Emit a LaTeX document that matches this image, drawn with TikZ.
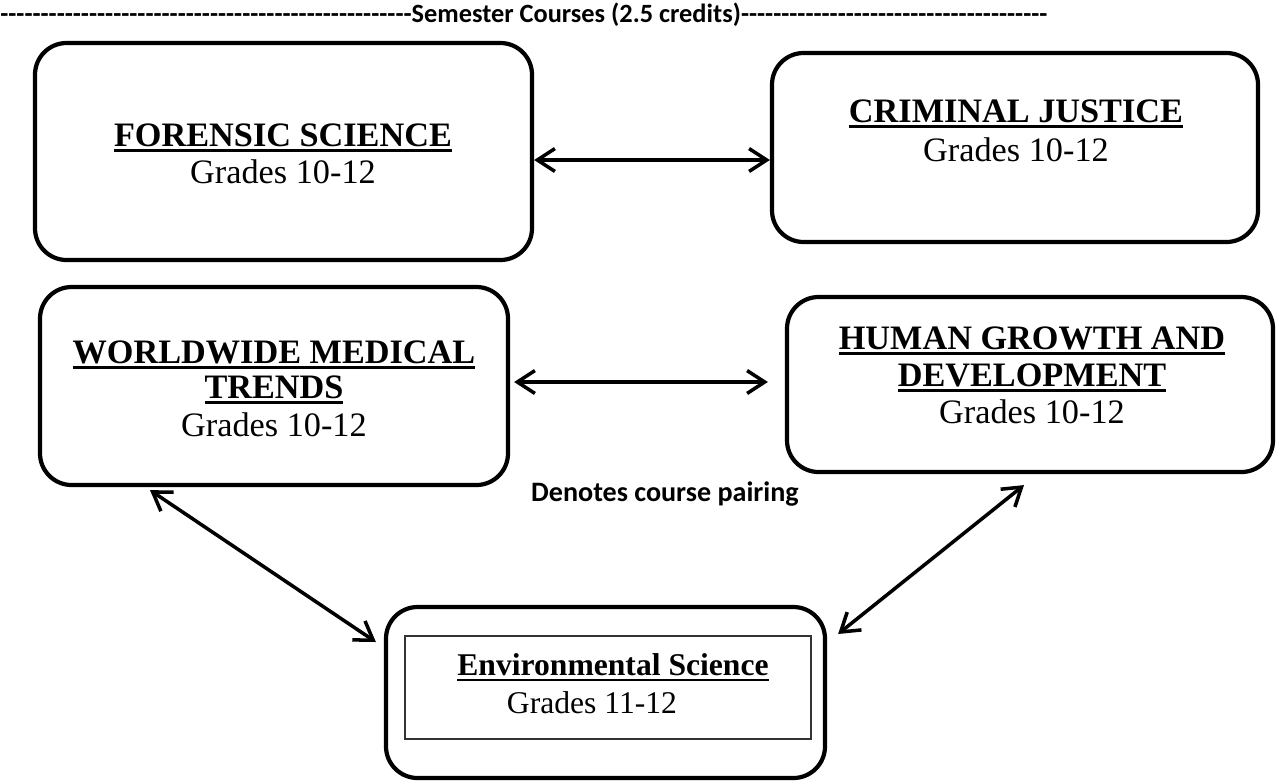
\documentclass[tikz,border=0pt]{standalone}
\usepackage{fontspec}
\setmainfont{Liberation Serif}
\newfontfamily\calibrifont{Carlito}
\usepackage{tikz}
\usetikzlibrary{arrows.meta}
\newcommand\dashrun[1]{\foreach \k in {1,...,#1}{-\kern0pt}}
\newcommand\ctitle[1]{\setbox0\hbox{\bfseries #1}\rlap{\rule[-3.4pt]{\wd0}{1.5pt}}\box0}
\tikzset{
  coursebox/.style ={draw, line width=2.4pt, rounded corners=18pt, inner sep=0pt},
  coursetext/.style ={anchor=base, font=\fontsize{19.5}{21}\selectfont, inner sep=0pt},
  smalltext/.style ={anchor=base, font=\fontsize{18}{20}\selectfont, inner sep=0pt},
  pair/.style ={draw, line width=2pt, {Straight Barb[length=10pt,width=13pt]}-{Straight Barb[length=10pt,width=13pt]}}
}

\begin{document}
\begin{tikzpicture}[x=0.02cm,y=-0.02cm]
	\useasboundingbox (0,0) rectangle (1282,782);
	% heading
	\node[font=\calibrifont\bfseries\fontsize{15}{17}\selectfont, anchor=base west, inner sep=0pt] (heading) at (0,22) {\dashrun{51}Semester Courses (2.5 credits)\dashrun{38}};

	% course boxes
	\node[coursebox, minimum width=497*0.02cm, minimum height=217*0.02cm] (forensic) at (283.5,151.5) {};
	\node[coursebox, minimum width=486*0.02cm, minimum height=189*0.02cm] (criminal) at (1015,147.5) {};
	\node[coursebox, minimum width=468*0.02cm, minimum height=198*0.02cm] (medical) at (274,386) {};
	\node[coursebox, minimum width=486*0.02cm, minimum height=175*0.02cm] (human) at (1030,384.5) {};
	\node[coursebox, minimum width=439*0.02cm, minimum height=171*0.02cm] (enviro) at (605.5,692.5) {};
	\draw[line width=0.8pt, black!80] (405,636) rectangle (811,739);

	% texts
	\node[coursetext] (forensictxt) at (283,146) {\ctitle{FORENSIC SCIENCE}};
	\node[coursetext] (forensicgr) at (283,183) {Grades 10-12};
	\node[coursetext] (criminaltxt) at (1016,122) {\ctitle{CRIMINAL JUSTICE}};
	\node[coursetext] (criminalgr) at (1016,161) {Grades 10-12};
	\node[coursetext] (medicaltxt) at (274,363) {\ctitle{WORLDWIDE MEDICAL}};
	\node[coursetext] (medicaltxt2) at (274,398) {\ctitle{TRENDS}};
	\node[coursetext] (medicalgr) at (274,436) {Grades 10-12};
	\node[coursetext] (humantxt) at (1032,349) {\ctitle{HUMAN GROWTH AND}};
	\node[coursetext] (humantxt2) at (1032,386) {\ctitle{DEVELOPMENT}};
	\node[coursetext] (humangr) at (1032,423) {Grades 10-12};
	\node[smalltext] (envirotxt) at (613,675.5) {\ctitle{Environmental Science}};
	\node[smalltext] (envirogr) at (592,713.5) {Grades 11-12};

	\node[font=\calibrifont\bfseries\fontsize{16}{18}\selectfont, anchor=base, inner sep=0pt] (legend) at (665,501) {Denotes course pairing};

	% pairings
	\draw[pair] ([yshift=-8.5*0.02cm]forensic.east) -- ([yshift=-12.5*0.02cm]criminal.west);
	\draw[pair] ([xshift=4*0.02cm, yshift=4*0.02cm]medical.east) -- ([xshift=-17*0.02cm, yshift=2.5*0.02cm]human.west);
	\draw[pair] ([xshift=-124*0.02cm, yshift=-3*0.02cm]medical.south) -- ([xshift=-8*0.02cm, yshift=50.5*0.02cm]enviro.west);
	\draw[pair] ([xshift=-6*0.02cm, yshift=-11*0.02cm]human.south) -- ([xshift=11*0.02cm, yshift=58.5*0.02cm]enviro.east);
\end{tikzpicture}
\end{document}
